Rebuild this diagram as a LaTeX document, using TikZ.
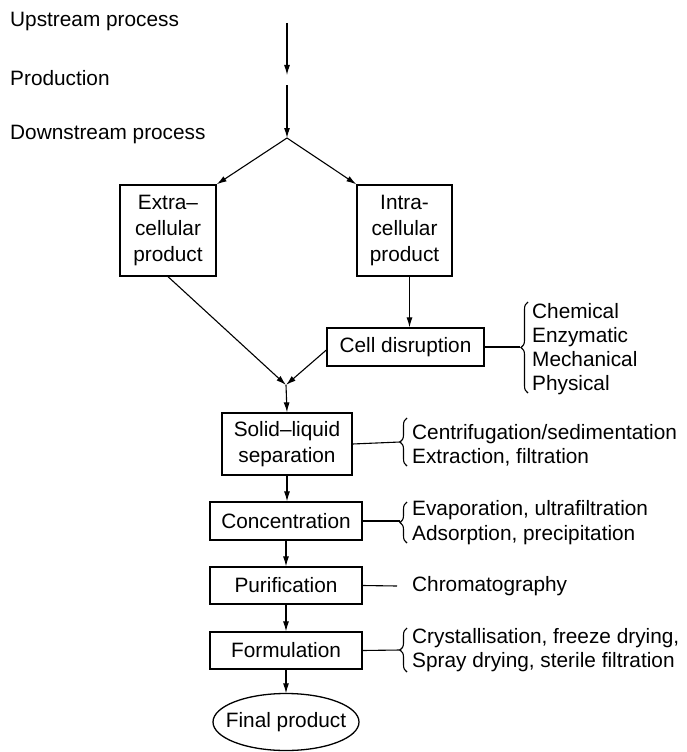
\documentclass[tikz,border=0pt]{standalone}
\usepackage{fontspec}
\setmainfont{Liberation Sans}
\usetikzlibrary{arrows.meta,shapes.geometric,decorations.pathreplacing,calc}
\begin{document}
\begin{tikzpicture}[x=1pt,y=-1pt,
  every node/.style={font=\fontsize{20.8}{26}\selectfont},
  box/.style={draw,line width=1.3pt,inner sep=0pt,align=center},
  arr/.style={line width=1.1pt,-{Latex[length=10pt,width=6pt]}},
  ln/.style={line width=1.1pt},
  br/.style={line width=1.1pt,decorate,decoration={brace,amplitude=7pt,aspect=0.5}},
  lst/.style={anchor=west,align=left,inner sep=0pt}]
\useasboundingbox (0,0) rectangle (686,752);

\node[anchor=base west,inner sep=0pt] (up) at (10,27) {Upstream process};
\node[anchor=base west,inner sep=0pt] (prod) at (10,85) {Production};
\node[anchor=base west,inner sep=0pt] (down) at (10,139) {Downstream process};

\coordinate (a1) at (287,23);
\coordinate (a2) at (287,75);
\coordinate (a3) at (287,85);
\coordinate (s) at (287,138);
\draw[arr] (a1) -- (a2);
\draw[arr] (a3) -- (s);

\node[box,minimum width=96pt,minimum height=91pt] (extra) at (168,230.5) {Extra--\\cellular\\product};
\node[box,minimum width=95pt,minimum height=91pt] (intra) at (404.5,230.5) {Intra-\\cellular\\product};
\draw[arr] (s) -- (extra.north east);
\draw[arr] (s) -- (intra.north west);

\node[box,minimum width=157pt,minimum height=38pt] (cell) at (405.5,347) {Cell disruption};
\draw[arr] ($(intra.south)+(5,0)$) -- ($(cell.north)+(4,0)$);

\coordinate (m) at (286,385);
\draw[arr] (extra.south) -- (m);
\draw[arr] ($(cell.west)+(0,3)$) -- (m);

\node[box,minimum width=130pt,minimum height=62pt] (solid) at (287,444) {Solid--liquid\\separation};
\draw[arr] (m) -- (solid.north);

\node[box,minimum width=152pt,minimum height=38pt] (conc) at (286,521) {Concentration};
\node[box,minimum width=152pt,minimum height=37pt] (pur) at (286,585.5) {Purification};
\node[box,minimum width=152pt,minimum height=37pt] (form) at (286,650.5) {Formulation};
\node[inner sep=0pt,minimum width=146pt,minimum height=57pt] (final) at (286,722) {Final product};
\draw[line width=1.3pt] (final.center) ellipse [x radius=73pt, y radius=28.5pt];

\draw[arr] (solid.south) -- (solid.south |- conc.north);
\draw[arr] (conc.south) -- (pur.north);
\draw[arr] (pur.south) -- (form.north);
\draw[arr] (form.south) -- (final.north);

% cell disruption methods
\node[lst,font=\fontsize{20.8}{24}\selectfont] (cellm) at (532,349) {Chemical\\Enzymatic\\Mechanical\\Physical};
\coordinate (cb1) at (528,393);
\coordinate (cb2) at (528,302);
\draw[br] (cb1) -- (cb2);
\coordinate (ct) at (520,347);
\draw[ln] (cell.east) -- (ct);

% solid-liquid
\node[lst,font=\fontsize{20.8}{24}\selectfont] (solm) at (412,445) {Centrifugation/sedimentation\\Extraction, filtration};
\coordinate (sb1) at (407,466);
\coordinate (sb2) at (407,418);
\draw[br] (sb1) -- (sb2);
\coordinate (st) at (400,442);
\draw[ln] (solid.east) -- (st);

% concentration
\node[lst,font=\fontsize{20.8}{25}\selectfont] (concm) at (412,522.5) {Evaporation, ultrafiltration\\Adsorption, precipitation};
\coordinate (kb1) at (407,543);
\coordinate (kb2) at (407,502);
\draw[br] (kb1) -- (kb2);
\coordinate (kt) at (400,521);
\draw[ln] (conc.east) -- (kt);

% purification
\node[lst] (purm) at (412,586) {Chromatography};
\coordinate (pt) at (397,586);
\draw[ln] (pur.east) -- (pt);

% formulation
\node[lst,font=\fontsize{20.8}{24}\selectfont] (formm) at (412,650.5) {Crystallisation, freeze drying,\\Spray drying, sterile filtration};
\coordinate (fb1) at (407,672);
\coordinate (fb2) at (407,628);
\draw[br] (fb1) -- (fb2);
\coordinate (ft) at (400,650);
\draw[ln] (form.east) -- (ft);
\end{tikzpicture}
\end{document}
